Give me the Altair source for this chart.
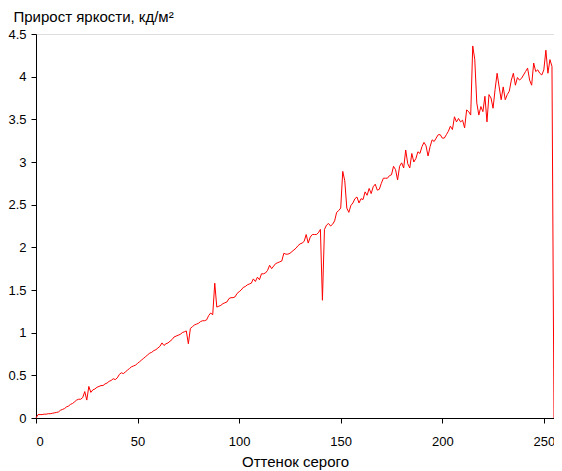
import altair as alt
import pandas as pd

values = [
    0.0, 0.04, 0.04, 0.04, 0.045, 0.045, 0.05, 0.05, 0.055, 0.06,
    0.065, 0.07, 0.09, 0.10, 0.11, 0.13, 0.14, 0.16, 0.17, 0.19,
    0.21, 0.22, 0.22, 0.24, 0.31, 0.21, 0.37, 0.30, 0.33, 0.34,
    0.36, 0.37, 0.38, 0.38, 0.40, 0.41, 0.43, 0.44, 0.46, 0.45,
    0.47, 0.51, 0.53, 0.52, 0.54, 0.56, 0.58, 0.60, 0.61, 0.62,
    0.64, 0.66, 0.68, 0.70, 0.72, 0.74, 0.76, 0.77, 0.79, 0.80,
    0.82, 0.84, 0.88, 0.85, 0.87, 0.88, 0.90, 0.92, 0.95, 0.96,
    0.97, 0.98, 1.00, 1.01, 1.02, 0.87, 1.05, 1.07, 1.09, 1.10,
    1.11, 1.13, 1.14, 1.14, 1.15, 1.20, 1.23, 1.21, 1.58, 1.30,
    1.31, 1.32, 1.34, 1.35, 1.36, 1.40, 1.41, 1.41, 1.42, 1.46,
    1.48, 1.50, 1.53, 1.54, 1.56, 1.57, 1.58, 1.63, 1.60, 1.65,
    1.62, 1.69, 1.69, 1.70, 1.73, 1.79, 1.75, 1.78, 1.81, 1.82,
    1.83, 1.84, 1.93, 1.92, 1.92, 1.93, 1.95, 1.97, 1.99, 2.02,
    2.04, 2.05, 2.07, 2.15, 2.05, 2.12, 2.15, 2.15, 2.15, 2.17,
    2.21, 1.38, 2.21, 2.26, 2.28, 2.25, 2.27, 2.31, 2.41, 2.43,
    2.46, 2.89, 2.78, 2.46, 2.41, 2.49, 2.52, 2.57, 2.59, 2.52,
    2.57, 2.56, 2.65, 2.61, 2.69, 2.63, 2.71, 2.74, 2.67, 2.68,
    2.75, 2.81, 2.81, 2.81, 2.84, 2.85, 2.95, 2.91, 2.79, 2.95,
    2.99, 2.93, 3.14, 2.98, 2.93, 3.10, 3.00, 3.04, 3.12, 3.10,
    3.18, 3.23, 3.19, 3.07, 3.18, 3.26, 3.24, 3.28, 3.32, 3.32,
    3.28, 3.28, 3.32, 3.36, 3.42, 3.38, 3.53, 3.47, 3.51, 3.47,
    3.49, 3.40, 3.61, 3.59, 3.55, 4.36, 4.20, 3.69, 3.55, 3.65,
    3.59, 3.77, 3.47, 3.79, 3.75, 3.63, 3.85, 4.04, 3.88, 3.73,
    3.88, 3.73, 3.79, 3.83, 3.96, 4.04, 3.90, 3.99, 3.96, 3.98,
    4.02, 4.06, 4.10, 3.96, 3.90, 4.16, 4.06, 4.08, 4.04, 4.02,
    4.08, 4.31, 4.04, 4.20, 4.12, 0.0,
]
shades = list(range(len(values)))
x_ticks = [0, 50, 100, 150, 200, 250]
y_ticks = [0, 0.5, 1, 1.5, 2, 2.5, 3, 3.5, 4, 4.5]

df = pd.DataFrame({"shade": shades, "value": values})

font = "Liberation Sans"

chart = alt.Chart(df).mark_line(color="#ff0000", strokeWidth=1).encode(
    x=alt.X(
        "shade:Q",
        scale=alt.Scale(domain=[0, 255], nice=False, zero=False),
        axis=alt.Axis(
            values=x_ticks,
            title="Оттенок серого",
            grid=False,
            domainColor="black",
            tickColor="black",
            tickSize=5,
            labelFont=font,
            labelFontSize=13,
            labelColor="black",
            labelPadding=12,
            titleFont=font,
            titleFontSize=15,
            titleFontWeight="normal",
            titleColor="black",
            titlePadding=6,
        ),
    ),
    y=alt.Y(
        "value:Q",
        scale=alt.Scale(domain=[0, 4.5], nice=False),
        axis=alt.Axis(
            values=y_ticks,
            format=".1~f",
            title="Прирост яркости, кд/м²",
            titleAngle=0,
            titleAlign="left",
            titleBaseline="alphabetic",
            titleX=-23,
            titleY=-13,
            grid=False,
            domainColor="black",
            tickColor="black",
            tickSize=5,
            labelFont=font,
            labelFontSize=13,
            labelColor="black",
            labelPadding=5,
            titleFont=font,
            titleFontSize=15,
            titleFontWeight="normal",
            titleColor="black",
        ),
    ),
).properties(
    width=518,
    height=384,
    autosize=alt.AutoSizeParams(type="none"),
    padding={"left": 28, "top": 26, "right": 0, "bottom": 54},
).configure_view(stroke=None).configure(background="white")

chart.save("out.html", embed_options={"renderer": "svg", "actions": False})
